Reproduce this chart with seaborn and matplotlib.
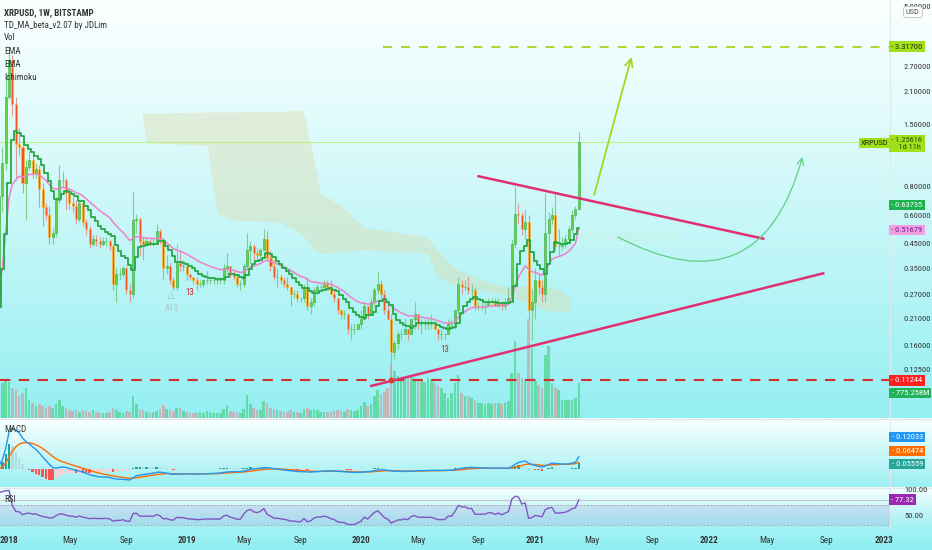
import numpy as np
import pandas as pd
import matplotlib
matplotlib.use("Agg")
import matplotlib.pyplot as plt
import matplotlib.dates as mdates
import matplotlib.transforms as mtransforms
from matplotlib import font_manager
from matplotlib.ticker import FixedLocator, FuncFormatter, NullLocator
from matplotlib.colors import to_rgb
import seaborn as sns

# ---------------------------------------------------------------- data
first_week = "2017-10-02"          # weekly bars (Monday)
first_open = 0.20

closes = [
    .25, .25, .21, .20, .21, .21, .24, .24, .25, .25,          # Oct-Dec 2017 (left of view)
    .73, 1.02, 2.00, 2.90, 1.85, 1.24, 1.20, .83, .98, 1.05,
    .92, .96, .78, .65, .60, .48, .50, .70, .86, .86,
    .75, .68, .66, .58, .68, .56, .52, .45, .47, .46,
    .45, .46, .46, .44, .30, .33, .33, .35, .28, .27,
    .57, .58, .46, .45, .46, .45, .45, .51, .47, .35,
    .36, .31, .29, .37, .36, .36, .33, .32, .31, .30,
    .30, .31, .31, .31, .31, .31, .31, .35, .36, .33,
    .32, .30, .30, .36, .42, .44, .41, .40, .42, .47,
    .39, .36, .32, .32, .31, .30, .29, .27, .27, .26,
    .26, .29, .24, .25, .28, .29, .29, .30, .29, .27,
    .26, .23, .22, .22, .19, .19, .19, .20, .21, .24,
    .22, .25, .28, .30, .27, .23, .21, .15, .165, .18,
    .18, .19, .18, .21, .22, .20, .20, .20, .20, .20,
    .19, .18, .18, .18, .20, .20, .23, .30, .29, .29,
    .28, .28, .24, .24, .24, .24, .25, .25, .24, .25,
    .24, .25, .26, .45, .61, .60, .52, .56, .23, .25,
    .31, .29, .27, .50, .58, .60, .44, .44, .45, .47,
    .52, .60, .63735, 1.25616,
]
highs = [
    .26, .27, .26, .22, .22, .23, .25, .26, .27, .28,
    .88, 1.20, 2.40, 3.317, 3.05, 2.00, 1.45, 1.25, 1.05, 1.15,
    1.10, 1.02, 1.00, .83, .68, .66, .53, .72, 1.00, .94,
    .88, .78, .72, .70, .70, .70, .58, .54, .49, .49,
    .48, .48, .48, .47, .45, .35, .35, .36, .36, .30,
    .77, .61, .59, .48, .48, .47, .47, .55, .52, .48,
    .40, .37, .32, .45, .42, .38, .37, .33, .32, .32,
    .31, .31, .34, .32, .32, .32, .32, .37, .41, .36,
    .34, .33, .31, .37, .50, .46, .45, .43, .43, .52,
    .51, .42, .38, .35, .33, .32, .32, .29, .28, .28,
    .26, .30, .32, .26, .29, .30, .30, .31, .31, .31,
    .28, .26, .23, .23, .22, .20, .20, .20, .23, .25,
    .24, .26, .29, .34, .31, .28, .25, .22, .17, .185,
    .19, .21, .19, .21, .25, .22, .21, .21, .21, .22,
    .20, .19, .19, .18, .21, .21, .23, .32, .31, .31,
    .32, .30, .29, .25, .25, .25, .26, .26, .26, .26,
    .25, .26, .29, .47, .80, .68, .62, .64, .60, .28,
    .35, .33, .31, .75, .62, .65, .75, .52, .48, .49,
    .54, .63, .66, 1.39,
]
lows = [
    .19, .23, .20, .19, .19, .19, .20, .22, .22, .23,
    .23, .62, .95, 1.95, 1.65, .86, 1.10, .75, .57, .95,
    .88, .88, .65, .54, .57, .45, .45, .48, .68, .80,
    .63, .64, .62, .55, .56, .54, .49, .43, .44, .44,
    .43, .44, .44, .42, .28, .25, .31, .32, .27, .25,
    .26, .50, .40, .38, .44, .44, .44, .45, .45, .31,
    .33, .30, .28, .28, .34, .34, .31, .31, .30, .28,
    .29, .29, .30, .30, .30, .30, .30, .30, .33, .32,
    .31, .29, .28, .29, .35, .37, .38, .38, .39, .42,
    .38, .34, .31, .29, .30, .29, .28, .24, .26, .25,
    .25, .25, .23, .22, .24, .27, .28, .28, .28, .27,
    .25, .22, .21, .21, .18, .17, .18, .19, .19, .21,
    .21, .22, .24, .27, .26, .22, .21, .11244, .14, .155,
    .17, .18, .17, .18, .19, .19, .18, .19, .19, .19,
    .19, .17, .17, .17, .18, .19, .19, .22, .27, .28,
    .27, .26, .23, .23, .23, .22, .24, .24, .24, .24,
    .23, .23, .25, .25, .43, .55, .49, .47, .21, .17,
    .21, .27, .25, .25, .40, .55, .42, .40, .42, .43,
    .45, .50, .58, .63,
]
volumes_m = [
    200, 200, 200, 200, 200, 200, 200, 200, 200, 200,
    660, 770, 840, 790, 660, 616, 484, 550, 660, 396,
    330, 264, 308, 264, 220, 264, 220, 308, 396, 264,
    220, 176, 154, 176, 132, 176, 154, 132, 176, 132,
    110, 110, 110, 132, 220, 176, 132, 110, 154, 132,
    484, 308, 176, 176, 132, 110, 132, 154, 198, 286,
    198, 176, 154, 220, 220, 154, 132, 110, 110, 110,
    132, 110, 154, 132, 110, 110, 110, 198, 286, 154,
    132, 132, 110, 198, 506, 308, 220, 176, 176, 374,
    330, 220, 198, 176, 154, 132, 132, 176, 132, 132,
    110, 198, 220, 176, 198, 176, 132, 132, 132, 132,
    154, 176, 154, 132, 198, 176, 154, 176, 264, 352,
    264, 308, 484, 616, 528, 572, 660, 1210, 1034, 924,
    880, 880, 880, 924, 836, 814, 836, 792, 880, 836,
    770, 726, 660, 550, 440, 550, 770, 946, 550, 484,
    484, 440, 396, 330, 330, 308, 330, 308, 330, 330,
    308, 330, 374, 990, 1716, 990, 880, 836, 2200, 1540,
    814, 726, 660, 1386, 1606, 770, 660, 616, 396, 396,
    396, 396, 440, 775.258,
]

view_start, view_end = "2017-12-13", "2023-01-15"
price_ticks = [0.125, 0.16, 0.21, 0.27, 0.35, 0.45, 0.60, 0.80, 1.5, 2.1, 2.7, 5.0]

ath_price = 3.317
ath_line_start = "2020-02-20"
support_price = 0.11244
ema_fast_value_label = 0.63735
ema_slow_value_label = 0.51679
last_volume_label = "775.258M"
macd_labels = ["0.12033", "0.06474", "0.05559"]
rsi_label = "77.32"

cloud_dates = ["2018-10-06", "2018-10-16", "2019-02-19", "2019-03-01", "2019-03-12",
               "2019-04-08", "2019-07-21", "2019-09-07", "2019-09-26", "2019-10-13",
               "2019-11-24", "2020-01-11", "2020-05-23", "2020-06-13", "2020-07-17",
               "2020-09-11", "2020-11-06", "2021-01-25", "2021-02-25", "2021-03-18"]
cloud_top = [1.69, 1.69, 1.71, 1.71, 1.71, 1.71, 1.72, 1.745, 1.16, 0.75,
             0.666, 0.533, 0.481, 0.422, 0.355, 0.311, 0.290, 0.296, 0.281, 0.254]
cloud_bot = [1.61, 1.25, 1.22, 0.86, 0.614, 0.572, 0.560, 0.491, 0.431, 0.409,
             0.413, 0.422, 0.409, 0.321, 0.296, 0.281, 0.267, 0.230, 0.223, 0.230]
future_cloud_dates = ["2021-04-08", "2021-10-30"]
future_cloud_top = [0.50, 0.50]
future_cloud_bot = [0.457, 0.457]

upper_trend_dates = ["2020-09-05", "2022-04-28"]
upper_trend_prices = [0.894, 0.472]
lower_trend_dates = ["2020-01-25", "2022-08-31"]
lower_trend_prices = [0.106, 0.334]
bull_arrow_dates = ["2021-05-07", "2021-07-24"]
bull_arrow_prices = [0.737, 2.99]
curve_arrow_dates = ["2021-06-26", "2022-07-16"]
curve_arrow_prices = [0.481, 1.083]

td_marks = [("13", "2019-01-14", 0.2755, "#c62828"),
            ("13", "2020-06-28", 0.1545, "#c62828"),
            ("\u25b3", "2018-12-07", 0.267, "#a5b8a8"),
            ("A13", "2018-12-07", 0.234, "#b0c4c4")]

# ---------------------------------------------------------------- style
sns.set_theme(style="white")
entries = font_manager.fontManager.ttflist
narrow = None
for pref in ("Liberation Sans Narrow", "Roboto Condensed", "Open Sans Condensed",
             "DejaVu Sans Condensed", "Noto Sans Condensed"):
    for f in entries:
        if f.name == pref:
            narrow = (f.name, "normal")
            break
    if narrow:
        break
if narrow is None:
    for pref in ("DejaVu Sans", "Noto Sans", "Open Sans", "Roboto", "Liberation Sans"):
        for f in entries:
            if f.name == pref and str(f.stretch) in ("condensed", "semi-condensed",
                                                      "extra-condensed"):
                narrow = (f.name, str(f.stretch))
                break
        if narrow:
            break
if narrow is None:
    narrow = ("Liberation Sans", "normal")
    FS, FS_LEG, FS_X = 5.3, 5.6, 6.0
else:
    FS, FS_LEG, FS_X = 6.0, 6.5, 6.6
plt.rcParams["font.family"] = [narrow[0], "DejaVu Sans"]
plt.rcParams["font.stretch"] = narrow[1]

W, H = 932, 550
fig = plt.figure(figsize=(W / 100, H / 100), dpi=100)


def rect(x0, y0, x1, y1):
    return [x0 / W, 1 - y1 / H, (x1 - x0) / W, (y1 - y0) / H]


# background gradients
grad = np.ones((H, 1, 3))


def paint(y0, y1, top, bot, gamma=1.0):
    t = np.linspace(0, 1, y1 - y0)[:, None] ** gamma
    grad[y0:y1, 0, :] = (1 - t) * np.array(to_rgb(top)) + t * np.array(to_rgb(bot))


paint(0, 418, "#fbffff", "#94eff2", 1.1)
paint(418, 420, "#f4fbfb", "#f4fbfb")
paint(420, 487, "#f8ffff", "#9ceff2", 1.0)
paint(487, 488, "#eef8f8", "#eef8f8")
paint(488, 528, "#f3feff", "#a2f0f3", 1.0)
paint(528, 550, "#a4f2f4", "#8eeef1", 1.0)
bg = fig.add_axes([0, 0, 1, 1], zorder=-10)
bg.imshow(grad, aspect="auto", extent=[0, 1, 0, 1], interpolation="bilinear")
bg.set_axis_off()

# ---------------------------------------------------------------- frame
dates = pd.date_range(first_week, periods=len(closes), freq="W-MON")
opens = [first_open] + closes[:-1]
df = pd.DataFrame(dict(date=dates, open=opens, high=highs, low=lows,
                       close=closes, vol=volumes_m))
df["high"] = df[["high", "open", "close"]].max(axis=1)
df["low"] = df[["low", "open", "close"]].min(axis=1)
df["x"] = mdates.date2num(df["date"])
up = (df["close"] >= df["open"]).values
x = df["x"].values
xlim = (mdates.datestr2num(view_start), mdates.datestr2num(view_end))

# ---------------------------------------------------------------- main pane
ax = fig.add_axes(rect(0, 0, 890, 418), zorder=2)
vax = fig.add_axes(rect(0, 0, 890, 418), zorder=1, sharex=ax)
for a in (ax, vax):
    a.patch.set_visible(False)
    for s in a.spines.values():
        s.set_visible(False)

# volume
vax.bar(x, df["vol"], width=5.4, color=np.where(up, "#4fd48c", "#cfa3a6"),
        alpha=0.72, linewidth=0)
vax.set_ylim(0, 9260)
vax.axis("off")

ax.set_yscale("log")
ax.set_xlim(*xlim)
ax.set_ylim(0.0768, 5.325)

# ichimoku cloud
cx = mdates.date2num(pd.to_datetime(cloud_dates))
ax.fill_between(cx, cloud_top, cloud_bot, color="#dcdcae", alpha=0.42, lw=0, zorder=1)
fx = mdates.date2num(pd.to_datetime(future_cloud_dates))
ax.fill_between(fx, future_cloud_top, future_cloud_bot, color="#d5e6c6", alpha=0.18,
                lw=0, zorder=1)

# horizontal levels
ax.axhline(df["close"].iloc[-1], color="#c2ef85", lw=0.8, zorder=1.5)
ax.axhline(support_price, color="#d32f2f", lw=1.5, ls=(0, (5, 4)), zorder=2)
ax.hlines(ath_price, mdates.datestr2num(ath_line_start), xlim[1], colors="#a8d41c",
          lw=1.3, linestyles=(0, (5, 5)), zorder=2)

# candles
ax.vlines(x, df["low"], df["high"], colors=np.where(up, "#7fcf8f", "#d99a9a"),
          lw=0.8, zorder=3)
body_h = (df["close"] - df["open"]).abs().values
body_b = df[["open", "close"]].min(axis=1).values
ax.bar(x[up], body_h[up], bottom=body_b[up], width=4.2, color="#62d443",
       edgecolor="#43b04f", linewidth=0.45, zorder=4)
ax.bar(x[~up], body_h[~up], bottom=body_b[~up], width=4.2, color="#f4511e",
       edgecolor="#fbc02d", linewidth=0.45, zorder=4)

# EMAs
ema_slow = df["close"].ewm(span=21, adjust=False).mean()
ema_fast = df["close"].ewm(span=8, adjust=False).mean().shift(1)
sns.lineplot(x=x, y=ema_slow.values, ax=ax, color="#ee82c8", lw=1.1, zorder=5)
sns.lineplot(x=x, y=ema_fast.values, ax=ax, color="#27a844", lw=1.3,
             drawstyle="steps-mid", zorder=6)

# trend lines & arrows
ax.plot(mdates.date2num(pd.to_datetime(upper_trend_dates)), upper_trend_prices,
        color="#e0306f", lw=1.8, zorder=7, solid_capstyle="butt")
ax.plot(mdates.date2num(pd.to_datetime(lower_trend_dates)), lower_trend_prices,
        color="#e0306f", lw=1.8, zorder=7, solid_capstyle="butt")
ax.plot(mdates.datestr2num("2020-03-09"), support_price, "o", color="#e53935",
        ms=3.2, zorder=8)
bx = mdates.date2num(pd.to_datetime(bull_arrow_dates))
ax.annotate("", xy=(bx[1], bull_arrow_prices[1]), xytext=(bx[0], bull_arrow_prices[0]),
            arrowprops=dict(arrowstyle="->", color="#a2d81e", lw=1.3, mutation_scale=14,
                            shrinkA=0, shrinkB=0), zorder=8)
qx = mdates.date2num(pd.to_datetime(curve_arrow_dates))
ax.annotate("", xy=(qx[1], curve_arrow_prices[1]), xytext=(qx[0], curve_arrow_prices[0]),
            arrowprops=dict(arrowstyle="->", color="#5fcf86", lw=0.9, mutation_scale=12,
                            shrinkA=0, shrinkB=0, connectionstyle="arc3,rad=0.62"),
            zorder=8)

for txt, d, p, c in td_marks:
    ax.text(mdates.datestr2num(d), p, txt, color=c, fontsize=FS + 0.4, ha="center",
            va="center", zorder=9)

ax.set_xlabel("")
ax.set_ylabel("")
ax.xaxis.set_visible(False)
ax.yaxis.set_major_locator(FixedLocator(price_ticks))
ax.yaxis.set_minor_locator(NullLocator())
ax.yaxis.set_major_formatter(FuncFormatter(lambda v, _: f"{v:.5f}"))
ax.tick_params(axis="y", which="both", left=False, right=False, labelleft=False,
               labelright=True, pad=3.5, labelsize=FS, labelcolor="#333333")

# ---------------------------------------------------------------- MACD pane
mx = fig.add_axes(rect(0, 420, 890, 487), zorder=2)
mx.patch.set_visible(False)
for s in mx.spines.values():
    s.set_visible(False)
ema12 = df["close"].ewm(span=12, adjust=False).mean()
ema26 = df["close"].ewm(span=26, adjust=False).mean()
macd = ema12 - ema26
signal = macd.ewm(span=9, adjust=False).mean()
hist = macd - signal
prev = hist.shift(1).fillna(0)
hcol = np.where(hist >= 0, np.where(hist >= prev, "#26a69a", "#b2dfdb"),
                np.where(hist < prev, "#ff5252", "#ffcdd2"))
mx.bar(x, hist, width=5.0, color=hcol, linewidth=0, zorder=2)
sns.lineplot(x=x, y=signal.values, ax=mx, color="#ff6d00", lw=1.0, zorder=3)
sns.lineplot(x=x, y=macd.values, ax=mx, color="#2196f3", lw=1.0, zorder=4)
vis = df["x"] >= xlim[0]
M = macd[vis].max()
R = M / 0.6119
mx.set_ylim(-0.2687 * R, 0.7313 * R)
mx.set_xlim(*xlim)
mx.set_xticks([])
mx.set_yticks([])
mx.set_xlabel("")
mx.set_ylabel("")

# ---------------------------------------------------------------- RSI pane
rx = fig.add_axes(rect(0, 488, 890, 528), zorder=2)
rx.patch.set_visible(False)
for s in rx.spines.values():
    s.set_visible(False)
delta = df["close"].diff()
gain = delta.clip(lower=0).ewm(alpha=1 / 14, adjust=False).mean()
loss = (-delta.clip(upper=0)).ewm(alpha=1 / 14, adjust=False).mean()
rsi = 100 - 100 / (1 + gain / loss)
rx.axhspan(30, 70, color="#9575cd", alpha=0.17, lw=0, zorder=1)
rx.axhline(70, color="#a0a0a0", lw=0.6, ls=(0, (2, 2)), zorder=2)
rx.axhline(30, color="#a0a0a0", lw=0.6, ls=(0, (2, 2)), zorder=2)
rx.axhline(rsi.iloc[-1], color="#c8c8c8", lw=0.8, zorder=2)
sns.lineplot(x=x, y=rsi.values, ax=rx, color="#7e57c2", lw=1.0, zorder=3)
rx.set_ylim(24, 104)
rx.set_xlim(*xlim)
rx.set_xlabel("")
rx.set_ylabel("")
rx.yaxis.set_major_locator(FixedLocator([50, 100]))
rx.yaxis.set_major_formatter(FuncFormatter(lambda v, _: f"{v:.2f}"))
rx.tick_params(axis="y", left=False, right=False, labelleft=False, labelright=True,
               pad=4.5, labelsize=FS, labelcolor="#333333")

# x ticks: first Monday of Jan / May / Sep
tick_pos, tick_lab = [], []
for yr in range(2018, 2024):
    for mo in (1, 5, 9):
        d = pd.Timestamp(yr, mo, 1)
        d = d + pd.Timedelta(days=(7 - d.weekday()) % 7)
        if d > pd.Timestamp(view_end):
            continue
        tick_pos.append(mdates.date2num(d))
        tick_lab.append(str(yr) if mo == 1 else d.strftime("%b"))
rx.set_xticks(tick_pos)
rx.set_xticklabels(tick_lab)
rx.tick_params(axis="x", length=0, pad=6, labelsize=FS_X, labelcolor="#333333")
for lab in rx.get_xticklabels():
    if lab.get_text().isdigit():
        lab.set_fontweight("bold")

# ---------------------------------------------------------------- separators
for ypx in (418.5, 487.5):
    fig.add_artist(plt.Line2D([0, 1], [1 - ypx / H] * 2, color="#dde9e9", lw=0.8))
fig.add_artist(plt.Line2D([890 / W] * 2, [1 - 528 / H, 1], color="#dcecec", lw=0.8))

# ---------------------------------------------------------------- value boxes


def price_box(axis, yval, text, fc, tc, dy=0.0, va="center"):
    tr = mtransforms.blended_transform_factory(axis.transAxes, axis.transData)
    axis.annotate(text, xy=(1.0, yval), xycoords=tr, xytext=(1.0, dy),
                  textcoords="offset points", ha="left", va=va, fontsize=FS, color=tc,
                  bbox=dict(boxstyle="square,pad=0.28", fc=fc, ec="none"),
                  annotation_clip=False, zorder=30)


def fig_box(xpx, ypx, text, fc, tc, ha="left", ec="none", style="square,pad=0.28"):
    fig.text(xpx / W, 1 - ypx / H, text, ha=ha, va="center", fontsize=FS, color=tc,
             bbox=dict(boxstyle=style, fc=fc, ec=ec, lw=0.6), zorder=30)


price_box(ax, ath_price, "- 3.31700", "#a2e01c", "#1e2a10")
price_box(ax, df["close"].iloc[-1], "- 1.25616\n    1d 11h", "#a2e01c", "#24520a",
          dy=4.0, va="top")
fig_box(888.5, 143, "XRPUSD", "#a2e01c", "#1e2a10", ha="right")
price_box(ax, ema_fast_value_label, "- 0.63735", "#1db34f", "white", dy=3.0)
price_box(ax, ema_slow_value_label, "- 0.51679", "#f59fe3", "#6a1b9a")
price_box(ax, support_price, "- 0.11244", "#ff1f1f", "white")
fig_box(891.5, 393, "- " + last_volume_label, "#23b25a", "white")
fig_box(891.5, 437, "- " + macd_labels[0], "#2196f3", "white")
fig_box(891.5, 451, "- " + macd_labels[1], "#ff6d00", "white")
fig_box(891.5, 464, "- " + macd_labels[2], "#26a69a", "white")
price_box(rx, rsi.iloc[-1], "- " + rsi_label, "#9c27b0", "white")
fig_box(906, 12, "USD", "white", "#555555", ec="#bdbdbd", style="round,pad=0.3")

# ---------------------------------------------------------------- legend texts
legend_lines = [("XRPUSD, 1W, BITSTAMP", "bold", 12.5),
                ("TD_MA_beta_v2.07 by JDLim", "normal", 25),
                ("Vol", "normal", 38),
                ("EMA", "normal", 51.5),
                ("EMA", "normal", 64.5),
                ("Ichimoku", "normal", 77.5)]
for t, wgt, ypx in legend_lines:
    fig.text(4 / W, 1 - ypx / H, t, fontsize=FS_LEG, fontweight=wgt, color="#333333",
             va="center", ha="left", zorder=30)
fig.text(4 / W, 1 - 430 / H, "MACD", fontsize=FS_LEG, color="#333333", va="center", zorder=30)
fig.text(4 / W, 1 - 500 / H, "RSI", fontsize=FS_LEG, color="#333333", va="center", zorder=30)

fig.savefig("out.png", dpi=100)
